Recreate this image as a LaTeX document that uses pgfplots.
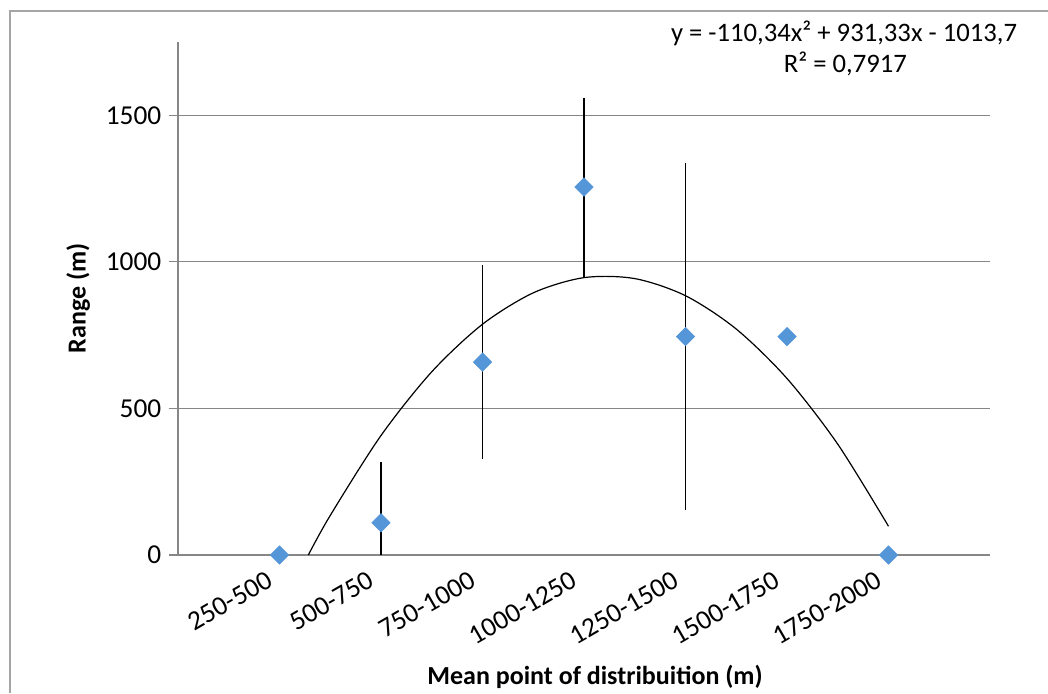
\documentclass[border=0pt]{standalone}
\usepackage{pgfplots}
\pgfplotsset{compat=1.18}
\usepackage{fontspec}
\setmainfont{Carlito}
\definecolor{gridgray}{RGB}{134,134,134}
\definecolor{framegray}{RGB}{165,165,165}
\definecolor{ptblue}{RGB}{84,150,215}
\pgfplotstableread{
x y ep em
1 0 0 0
2 110 208 110
3 658 332 332
4 1255 305 305
5 745 592 592
6 745 0 0
7 0 0 0
}\datatable
\begin{document}
\begin{tikzpicture}
\path[use as bounding box] (0,0) rectangle (786pt,519.75pt);
\draw[framegray, line width=1.2pt] (7.5pt,0) -- (7.5pt,511.5pt) -- (786pt,511.5pt);
\begin{axis}[
  at={(133.5pt,103.5pt)}, anchor=south west,
  scale only axis, width=609pt, height=384.75pt,
  xmin=0, xmax=8, ymin=0, ymax=1750,
  axis lines*=left,
  axis line style={gridgray, line width=0.9pt, -},
  xtick={1,2,3,4,5,6,7},
  xticklabels={250-500,500-750,750-1000,1000-1250,1250-1500,1500-1750,1750-2000},
  x tick style={draw=none},
  ytick={0,500,1000,1500},
  y tick style={gridgray, line width=0.9pt},
  tick align=outside,
  major tick length=7pt,
  ymajorgrids,
  grid style={gridgray, line width=0.9pt},
  /pgf/number format/assume math mode=true,
  /pgf/number format/1000 sep={},
  tick label style={font=\fontsize{20.5}{24}\selectfont, black},
  xticklabel style={rotate=30, anchor=north east, xshift=-8pt, yshift=5pt},
  yticklabel style={xshift=-2pt},
  every axis y label/.style={at={(axis description cs:-0.123,0.5)}, rotate=90, anchor=center},
  every axis x label/.style={at={(axis description cs:0.5135,-0.238)}, anchor=center},
  xlabel={Mean point of distribuition (m)},
  ylabel={Range (m)},
  label style={font=\fontsize{19.5}{23}\selectfont\bfseries},
  clip=false,
]
\addplot[draw=none, mark=none, forget plot,
  error bars/.cd, y dir=both, y explicit, error mark=none,
  error bar style={black, line width=0.9pt}]
  table[x=x, y=y, y error plus=ep, y error minus=em] {\datatable};
\addplot[only marks, mark=square*, mark size=4.9pt,
  mark options={rotate=45, fill=ptblue, draw=ptblue}]
  table[x=x, y=y] {\datatable};
\addplot[black, line width=0.9pt, smooth, mark=none] coordinates {
 (1.284,0) (1.5,135.0) (2,407.6) (2.5,625.0) (3,787.2) (3.5,894.3)
 (4,946.2) (4.5,942.9) (5,884.5) (5.5,770.8) (6,602.1) (6.5,378.0) (7,98.0)
};
\end{axis}
\node[anchor=base, font=\fontsize{20}{24}\selectfont] at (633pt,488.5pt) {y = -110,34x² + 931,33x - 1013,7};
\node[anchor=base, font=\fontsize{20}{24}\selectfont] at (634pt,465.2pt) {R² = 0,7917};
\end{tikzpicture}
\end{document}
